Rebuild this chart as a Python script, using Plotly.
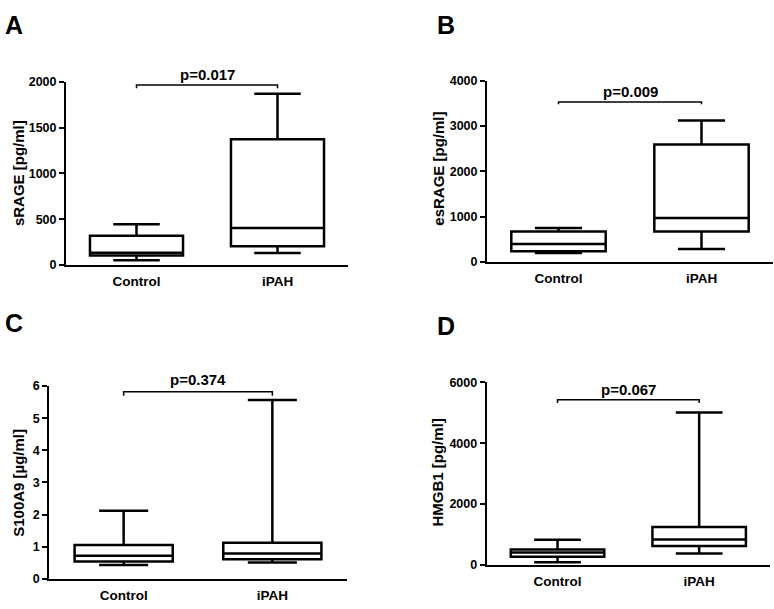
import plotly.graph_objects as go

categories = ["Control", "iPAH"]

# Panel A: sRAGE [pg/ml]
a_lower = [50, 129]
a_q1 = [102, 204]
a_median = [132, 404]
a_q3 = [318, 1372]
a_upper = [444, 1868]

# Panel B: esRAGE [pg/ml]
b_lower = [201, 287]
b_q1 = [237, 675]
b_median = [395, 969]
b_q3 = [675, 2592]
b_upper = [747, 3117]

# Panel C: S100A9 [µg/ml]
c_lower = [0.43, 0.51]
c_q1 = [0.54, 0.61]
c_median = [0.72, 0.79]
c_q3 = [1.05, 1.12]
c_upper = [2.12, 5.57]

# Panel D: HMGB1 [pg/ml]
d_lower = [86, 375]
d_q1 = [268, 621]
d_median = [407, 836]
d_q3 = [504, 1243]
d_upper = [825, 5014]

p_values = ["p=0.017", "p=0.009", "p=0.374", "p=0.067"]
y_titles = ["sRAGE [pg/ml]", "esRAGE [pg/ml]", "S100A9 [µg/ml]", "HMGB1 [pg/ml]"]
panel_letters = ["A", "B", "C", "D"]
y_ranges = [[0, 2000], [0, 4000], [0, 6], [0, 6000]]
y_tickvals = [[0, 500, 1000, 1500, 2000], [0, 1000, 2000, 3000, 4000],
              [0, 1, 2, 3, 4, 5, 6], [0, 2000, 4000, 6000]]
bracket_levels = [1964, 3526, 5.82, 5431]
bracket_drops = [34, 50, 0.12, 106]
p_text_levels = [2075, 3770, 6.19, 5762]

W, H = 774, 609
# plot-area pixel boxes: (left, right, top, bottom)
plot_px = [(66, 348, 76.5, 264), (487, 773, 75.3, 261),
           (49.3, 346.7, 388, 585.3), (486.7, 770, 384.3, 571)]
title_pos_px = [(18, 170), (438.5, 166), (19, 487), (437.5, 477)]
letter_pos_px = [(14, 18), (446, 18), (14, 323), (446, 326)]

FONT = "Liberation Sans, Arial, sans-serif"

stats = [
    (a_lower, a_q1, a_median, a_q3, a_upper),
    (b_lower, b_q1, b_median, b_q3, b_upper),
    (c_lower, c_q1, c_median, c_q3, c_upper),
    (d_lower, d_q1, d_median, d_q3, d_upper),
]

fig = go.Figure()
annotations = []
for i, (lo, q1, med, q3, up) in enumerate(stats):
    xa = "x" if i == 0 else f"x{i+1}"
    ya = "y" if i == 0 else f"y{i+1}"
    fig.add_trace(go.Box(
        x=categories, q1=q1, median=med, q3=q3, lowerfence=lo, upperfence=up,
        xaxis=xa, yaxis=ya, boxpoints=False, width=0.66, whiskerwidth=0.5,
        fillcolor="white", line=dict(color="black", width=2.5),
        showlegend=False, hoverinfo="skip",
    ))
    b = bracket_levels[i]
    d = bracket_drops[i]
    fig.add_trace(go.Scatter(
        x=[categories[0], categories[0], categories[1], categories[1]],
        y=[b - d, b, b, b - d], mode="lines",
        line=dict(color="black", width=1.5), xaxis=xa, yaxis=ya,
        showlegend=False, hoverinfo="skip", cliponaxis=False,
    ))
    l, r, t, btm = plot_px[i]
    rmax = y_ranges[i][1]
    p_px = btm - (p_text_levels[i] / rmax) * (btm - t)
    annotations.append(dict(
        x=0.5, y=1 - p_px / H, xref=xa, yref="paper", text="<b>" + p_values[i] + "</b>",
        showarrow=False, font=dict(family=FONT, size=15, color="black", weight="bold"),
        xanchor="center", yanchor="middle",
    ))
    tx, ty = title_pos_px[i]
    annotations.append(dict(
        x=tx / W, y=1 - ty / H, xref="paper", yref="paper",
        text="<b>" + y_titles[i] + "</b>", textangle=-90, showarrow=False,
        font=dict(family=FONT, size=15, color="black", weight="bold"),
        xanchor="center", yanchor="middle",
    ))
    lx, ly = letter_pos_px[i]
    annotations.append(dict(
        x=lx / W, y=1 - ly / H, xref="paper", yref="paper",
        text="<b>" + panel_letters[i] + "</b>",
        showarrow=False, font=dict(family=FONT, size=25, color="black", weight="bold"),
        xanchor="center", yanchor="middle",
    ))

layout = dict(
    width=W, height=H, margin=dict(l=0, r=0, t=0, b=0),
    paper_bgcolor="white", plot_bgcolor="white",
    annotations=annotations, showlegend=False,
)
for i in range(4):
    xk = "xaxis" if i == 0 else f"xaxis{i+1}"
    yk = "yaxis" if i == 0 else f"yaxis{i+1}"
    ya = "y" if i == 0 else f"y{i+1}"
    xa = "x" if i == 0 else f"x{i+1}"
    l, r, t, btm = plot_px[i]
    layout[xk] = dict(
        domain=[l / W, r / W], anchor=ya, range=[-0.5, 1.5], type="category",
        showline=True, linecolor="black", linewidth=2, ticks="outside", ticklen=3,
        tickcolor="rgba(0,0,0,0)", showgrid=False,
        zeroline=False, tickvals=categories,
        ticktext=["<b>" + c + "</b>" for c in categories],
        tickfont=dict(family=FONT, size=13.5, color="black", weight="bold"),
    )
    layout[yk] = dict(
        domain=[1 - btm / H, 1 - t / H], anchor=xa, range=y_ranges[i],
        tickvals=y_tickvals[i], ticktext=["<b>" + f"{v:g}" + "</b>" for v in y_tickvals[i]],
        showline=True, linecolor="black", linewidth=2, ticks="outside", ticklen=5,
        tickwidth=2, tickcolor="black", showgrid=False, zeroline=False,
        tickfont=dict(family=FONT, size=12.5, color="black", weight="bold"),
    )
fig.update_layout(**layout)
fig.write_html(
    "out.html",
    config={"displayModeBar": False},
    post_script="document.body.style.margin='0';document.body.style.overflow='hidden';",
)
